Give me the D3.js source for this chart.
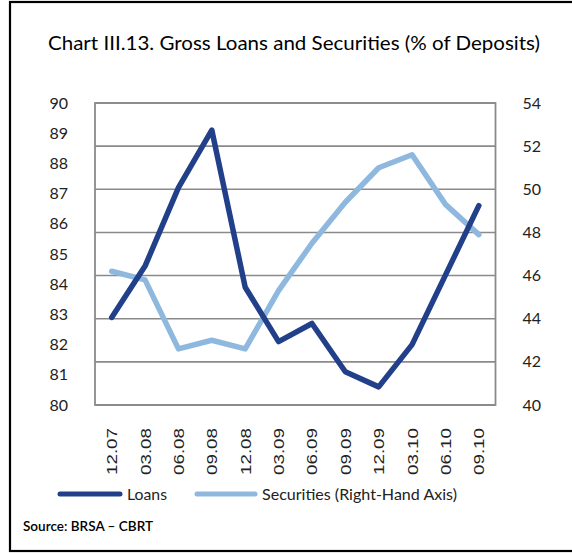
<!DOCTYPE html>
<html>
<head>
<meta charset="utf-8">
<script src="https://cdn.jsdelivr.net/npm/d3@7"></script>
<style>
  html, body { margin: 0; padding: 0; background: #fff; }
  svg { display: block; }
</style>
</head>
<body>
<svg id="chart" width="572" height="553"></svg>
<script>
// Quarter labels (month.year)
const quarters = ["12.07", "03.08", "06.08", "09.08", "12.08", "03.09",
                  "06.09", "09.09", "12.09", "03.10", "06.10", "09.10"];

// Gross loans, % of deposits (left axis)
const loans = [82.9, 84.6, 87.2, 89.1, 83.9, 82.1, 82.7, 81.1, 80.6, 82.0, 84.3, 86.6];

// Securities, % of deposits (right axis)
const securities = [46.2, 45.8, 42.6, 43.0, 42.6, 45.3, 47.5, 49.4, 51.0, 51.6, 49.3, 47.9];

// Axis ticks
const leftTicks = [80, 81, 82, 83, 84, 85, 86, 87, 88, 89, 90];
const rightTicks = [40, 42, 44, 46, 48, 50, 52, 54];

const svg = d3.select("#chart");

const plot = { left: 95, right: 495.5, top: 103, bottom: 405 };

const x = d3.scalePoint()
  .domain(quarters)
  .range([plot.left, plot.right])
  .padding(0.5);

const yLeft = d3.scaleLinear().domain([80, 90]).range([plot.bottom, plot.top]);
const yRight = d3.scaleLinear().domain([40, 54]).range([plot.bottom, plot.top]);

// Outer frame
svg.append("rect")
  .attr("x", 10).attr("y", 2)
  .attr("width", 580).attr("height", 549)
  .attr("fill", "none")
  .attr("stroke", "#000")
  .attr("stroke-width", 2.2);

// Title
svg.append("text")
  .attr("x", 48).attr("y", 50)
  .attr("font-family", "Lato, 'Noto Sans', sans-serif")
  .attr("font-size", 20)
  .attr("fill", "#000")
  .attr("textLength", 492)
  .attr("lengthAdjust", "spacingAndGlyphs")
  .text("Chart III.13. Gross Loans and Securities (% of Deposits)");

// Gridlines follow the right-hand axis ticks
svg.append("g")
  .selectAll("line")
  .data(rightTicks)
  .join("line")
  .attr("x1", plot.left).attr("x2", plot.right)
  .attr("y1", d => yRight(d)).attr("y2", d => yRight(d))
  .attr("stroke", "#8a8a8a")
  .attr("stroke-width", 1.6);

// Plot border
svg.append("rect")
  .attr("x", plot.left).attr("y", plot.top)
  .attr("width", plot.right - plot.left)
  .attr("height", plot.bottom - plot.top)
  .attr("fill", "none")
  .attr("stroke", "#8a8a8a")
  .attr("stroke-width", 1.8);

const tickFont = "Lato, 'Noto Sans', sans-serif";

// Left axis
const leftAxis = svg.append("g")
  .attr("transform", `translate(${plot.left - 27},0)`)
  .call(d3.axisLeft(yLeft).tickValues(leftTicks).tickSize(0).tickPadding(0));
leftAxis.select(".domain").remove();
leftAxis.selectAll("text")
  .attr("font-family", tickFont)
  .attr("font-size", 16)
  .attr("fill", "#222");

// Right axis
const rightAxis = svg.append("g")
  .attr("transform", `translate(${plot.right + 27},0)`)
  .call(d3.axisRight(yRight).tickValues(rightTicks).tickSize(0).tickPadding(0));
rightAxis.select(".domain").remove();
rightAxis.selectAll("text")
  .attr("font-family", tickFont)
  .attr("font-size", 16)
  .attr("fill", "#222");

// Bottom axis with vertical labels
const bottomAxis = svg.append("g")
  .attr("transform", `translate(0,${plot.bottom})`)
  .call(d3.axisBottom(x).tickSize(0).tickPadding(0));
bottomAxis.select(".domain").remove();
bottomAxis.selectAll("text")
  .attr("font-family", "'Liberation Sans', Arial, sans-serif")
  .attr("font-size", 15)
  .attr("fill", "#222")
  .attr("text-anchor", "end")
  .attr("dy", null)
  .attr("y", 0)
  .attr("transform", "translate(5,23) rotate(-90)")
  .attr("textLength", 47)
  .attr("lengthAdjust", "spacingAndGlyphs");

// Series lines
const loanColor = "#22408a";
const secColor = "#8fb8de";

const lineLeft = d3.line().x((d, i) => x(quarters[i])).y(d => yLeft(d));
const lineRight = d3.line().x((d, i) => x(quarters[i])).y(d => yRight(d));

svg.append("path")
  .datum(securities)
  .attr("d", lineRight)
  .attr("fill", "none")
  .attr("stroke", secColor)
  .attr("stroke-width", 5.5)
  .attr("stroke-linejoin", "round")
  .attr("stroke-linecap", "round");

svg.append("path")
  .datum(loans)
  .attr("d", lineLeft)
  .attr("fill", "none")
  .attr("stroke", loanColor)
  .attr("stroke-width", 5.5)
  .attr("stroke-linejoin", "round")
  .attr("stroke-linecap", "round");

// Legend
const legendItems = [
  { label: "Loans", color: loanColor, x: 60, w: 60, textLen: 40 },
  { label: "Securities (Right-Hand Axis)", color: secColor, x: 197, w: 58, textLen: 195 }
];
const legend = svg.append("g");
legendItems.forEach(item => {
  legend.append("line")
    .attr("x1", item.x).attr("x2", item.x + item.w)
    .attr("y1", 494).attr("y2", 494)
    .attr("stroke", item.color)
    .attr("stroke-width", 5)
    .attr("stroke-linecap", "round");
  legend.append("text")
    .attr("x", item.x + item.w + 7)
    .attr("y", 499.5)
    .attr("font-family", tickFont)
    .attr("font-size", 15)
    .attr("fill", "#222")
    .attr("textLength", item.textLen)
    .attr("lengthAdjust", "spacingAndGlyphs")
    .text(item.label);
});

// Source note
svg.append("text")
  .attr("x", 23).attr("y", 531)
  .attr("font-family", "Lato, 'Noto Sans', sans-serif")
  .attr("font-size", 14)
  .attr("font-weight", 600)
  .attr("fill", "#000")
  .attr("textLength", 130)
  .attr("lengthAdjust", "spacingAndGlyphs")
  .text("Source: BRSA – CBRT");
</script>
</body>
</html>
